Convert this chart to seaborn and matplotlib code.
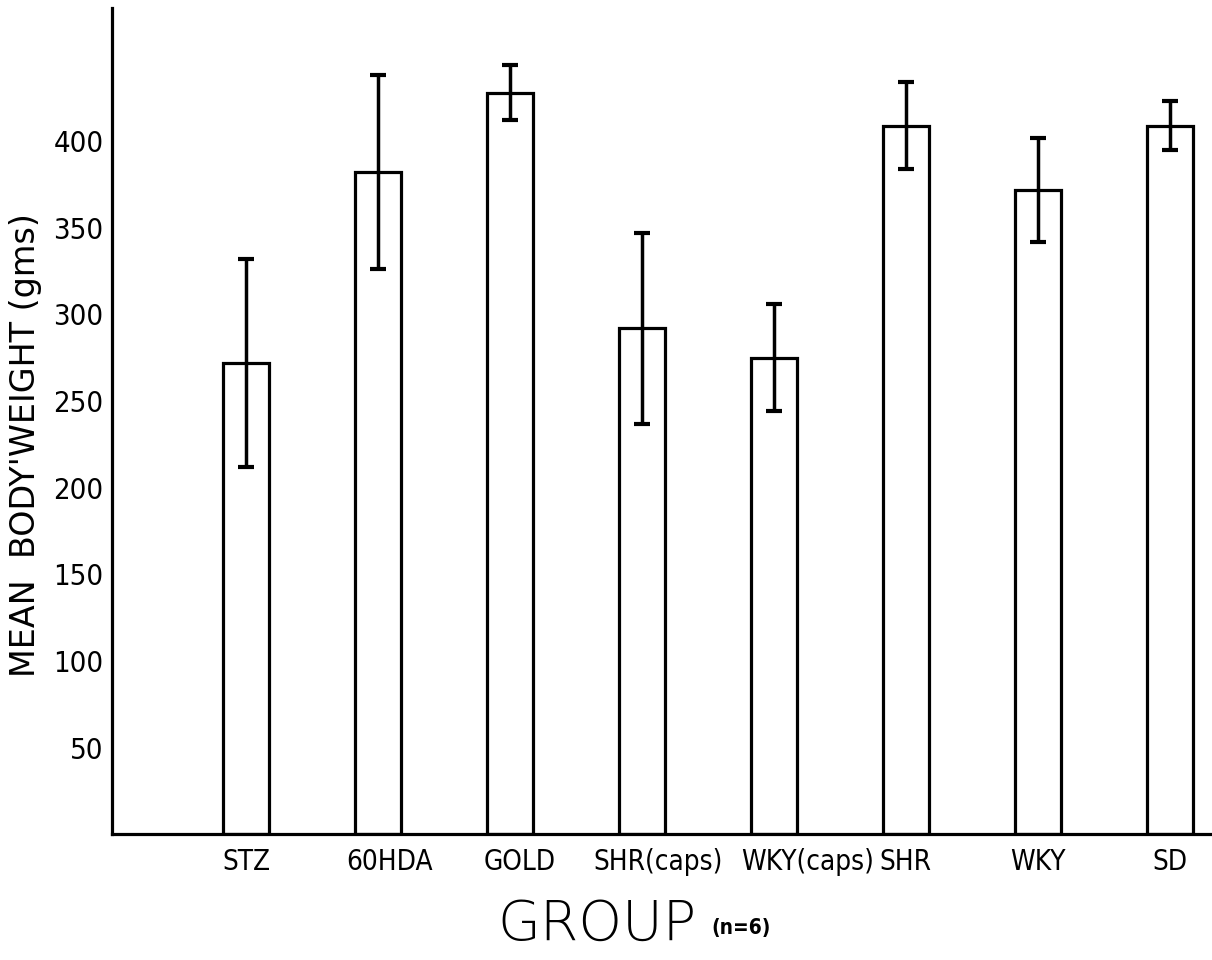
import numpy as np
import pandas as pd
import seaborn as sns
import matplotlib.pyplot as plt
from matplotlib.transforms import ScaledTranslation

# values (mean +/- error, grams)
groups = ["STZ", "60HDA", "GOLD", "SHR(caps)", "WKY(caps)", "SHR", "WKY", "SD"]
mean_weight = [272, 382, 428, 292, 275, 409, 372, 409]
err_weight = [60, 56, 16, 55, 31, 25, 30, 14]
yticks = [50, 100, 150, 200, 250, 300, 350, 400]

df = pd.DataFrame({"group": groups, "weight": mean_weight})

sns.set_style("white")
plt.rcParams["font.family"] = ["DejaVu Sans Condensed", "DejaVu Sans"]
plt.rcParams["font.stretch"] = "condensed"
plt.rcParams["text.color"] = "black"
plt.rcParams["axes.labelcolor"] = "black"
plt.rcParams["xtick.color"] = "black"
plt.rcParams["ytick.color"] = "black"

fig = plt.figure(figsize=(12.12, 9.6), dpi=100)
ax = fig.add_axes([0.0924, 0.131, 0.9076, 0.861])

sns.barplot(data=df, x="group", y="weight", color="white", edgecolor="black",
            linewidth=2.3, width=0.35, errorbar=None, ax=ax)
ax.errorbar(np.arange(len(groups)), mean_weight, yerr=err_weight, fmt="none",
            ecolor="black", elinewidth=2.5, capsize=6, capthick=3)

ax.set_xlim(-1.015, 7.32)
ax.set_ylim(0, 477)
ax.set_yticks(yticks)
ax.set_yticklabels([str(t) for t in yticks], fontsize=21)
ax.tick_params(axis="y", direction="in", length=6, width=2, pad=6)
ax.tick_params(axis="x", length=0, pad=10, labelsize=20)

# the hand lettering sits a little right of some bars
shifts = [0, 12, 10, 16, 34, 0, 0, 0]
for lab, dx in zip(ax.get_xticklabels(), shifts):
    lab.set_transform(lab.get_transform() +
                      ScaledTranslation(dx / 100, 0, fig.dpi_scale_trans))

ax.set_xlabel("")
ax.set_ylabel("MEAN  BODY'WEIGHT (gms)", fontsize=24, fontstretch="normal",
              family=["DejaVu Sans"])
ax.yaxis.set_label_coords(-0.0636, 0.471)

sns.despine(ax=ax)
for side in ["left", "bottom"]:
    ax.spines[side].set_linewidth(2.3)
    ax.spines[side].set_color("black")

fig.text(597 / 1212, 1 - 925 / 960, "GROUP", ha="center", va="center",
         fontsize=40, fontweight="light", fontstretch="normal",
         family=["DejaVu Sans"])
fig.text(741 / 1212, 1 - 928 / 960, "(n=6)", ha="center", va="center",
         fontsize=15, fontweight="bold")

fig.savefig("out.png", dpi=100, facecolor="white")
